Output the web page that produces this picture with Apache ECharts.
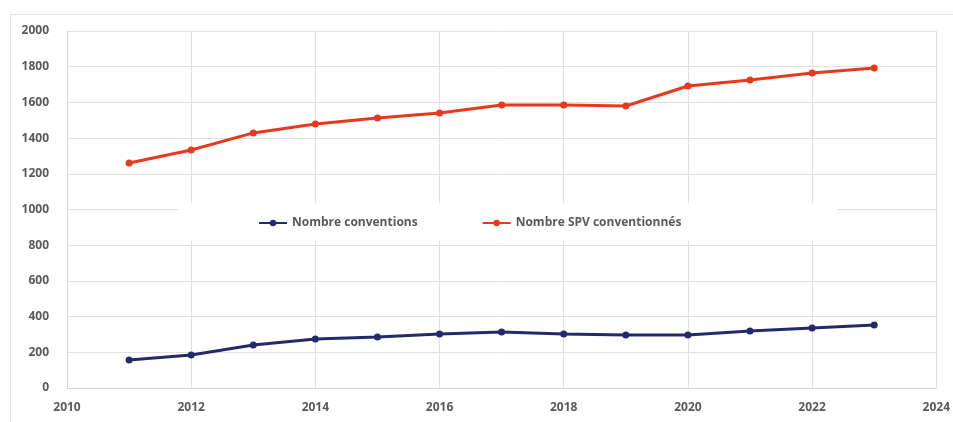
<!DOCTYPE html>
<html>
<head>
<meta charset="utf-8">
<script src="https://cdn.jsdelivr.net/npm/echarts@6/dist/echarts.min.js"></script>
<style>
  html, body { margin: 0; padding: 0; background: #fff; }
  #frame { position: absolute; left: 10px; top: 14px; width: 960px; height: 420px; border: 1px solid #e6e2de; }
  #chart { position: absolute; left: 0; top: 0; width: 953px; height: 422px; }
</style>
</head>
<body>
<div id="frame"></div>
<div id="chart"></div>
<script>
// années
const years = [2011, 2012, 2013, 2014, 2015, 2016, 2017, 2018, 2019, 2020, 2021, 2022, 2023]
// Nombre conventions
const conventions = [157, 185, 241, 275, 286, 302, 314, 302, 297, 297, 319, 336, 353]
// Nombre SPV conventionnés
const spv = [1260, 1333, 1429, 1479, 1513, 1541, 1585, 1585, 1580, 1692, 1725, 1765, 1793]

const toPairs = (vals) => years.map((y, i) => [y, vals[i]])

const axisText = { color: '#595959', fontSize: 12, fontWeight: 'bold', fontFamily: 'Open Sans', formatter: (v) => String(v) }

const myChart = echarts.init(document.getElementById('chart'))
myChart.setOption({
  animation: false,
  grid: { left: 67, right: 12, top: 31, bottom: 34 },
  legend: {
    top: 203,
    left: 178,
    padding: [14, 156, 12, 80],
    backgroundColor: '#ffffff',
    itemGap: 64,
    itemWidth: 28,
    itemHeight: 8,
    textStyle: { color: '#595959', fontSize: 12, fontWeight: 'bold', fontFamily: 'Open Sans' },
    data: ['Nombre conventions', 'Nombre SPV conventionnés']
  },
  xAxis: {
    type: 'value',
    min: 2010,
    max: 2024,
    interval: 2,
    axisLine: { show: true, lineStyle: { color: '#d9d4cf' } },
    axisTick: { show: false },
    axisLabel: Object.assign({ margin: 14 }, axisText),
    splitLine: { show: true, lineStyle: { color: '#e3e0dc' } }
  },
  yAxis: {
    type: 'value',
    min: 0,
    max: 2000,
    interval: 200,
    axisLine: { show: true, lineStyle: { color: '#d9d4cf' } },
    axisTick: { show: false },
    axisLabel: Object.assign({ margin: 18 }, axisText),
    splitLine: { show: true, lineStyle: { color: '#e3e0dc' } }
  },
  series: [
    {
      name: 'Nombre conventions',
      type: 'line',
      data: toPairs(conventions),
      symbol: 'circle',
      symbolSize: 7,
      lineStyle: { width: 3, color: '#232a6c' },
      itemStyle: { color: '#232a6c' }
    },
    {
      name: 'Nombre SPV conventionnés',
      type: 'line',
      data: toPairs(spv),
      symbol: 'circle',
      symbolSize: 7,
      lineStyle: { width: 3, color: '#e8381e' },
      itemStyle: { color: '#e8381e' }
    }
  ]
})
</script>
</body>
</html>
